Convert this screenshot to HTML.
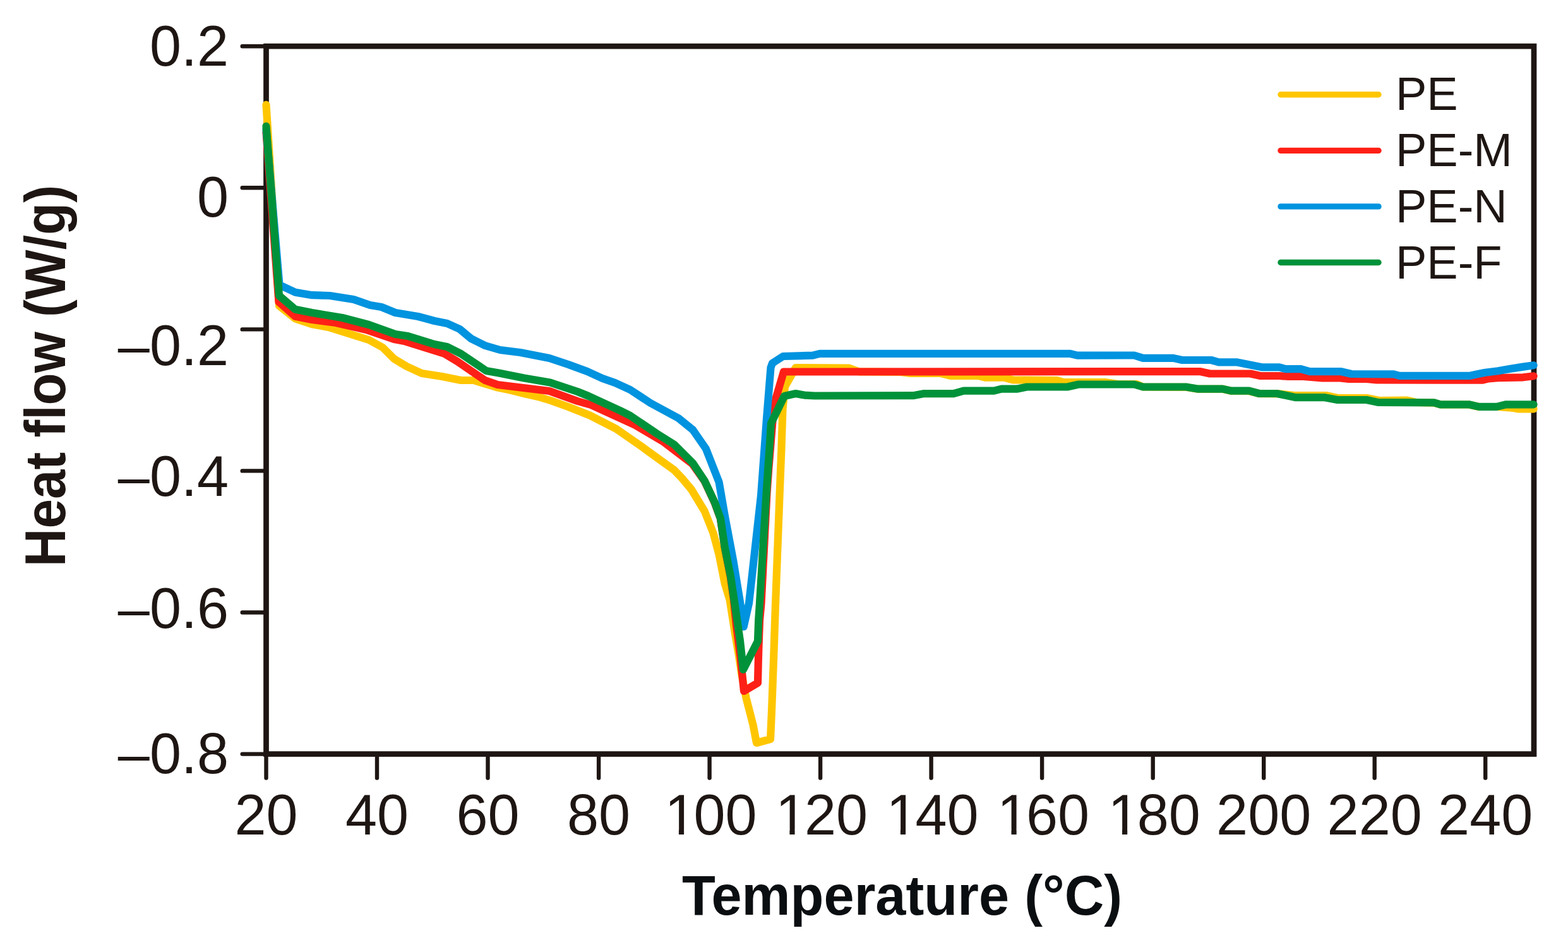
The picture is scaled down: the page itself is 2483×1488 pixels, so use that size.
<!DOCTYPE html><html><head><meta charset="utf-8"><title>Heat flow vs Temperature</title>
<style>html,body{margin:0;padding:0;background:#fff;overflow:hidden;}svg{display:block;}</style></head><body>
<svg width="2483" height="1488" viewBox="0 0 2483 1488">
<rect width="2483" height="1488" fill="#fff"/>
<g stroke="#1e1613" fill="none">
<rect x="421.5" y="73.2" width="2007.5" height="1120.4" stroke-width="8.7"/>
<path d="M383.7,73.2H421.5M383.7,297.3H421.5M383.7,521.4H421.5M383.7,745.4H421.5M383.7,969.5H421.5M383.7,1193.6H421.5M421.5,1193.6V1231.5M597.0,1193.6V1231.5M772.5,1193.6V1231.5M948.1,1193.6V1231.5M1123.6,1193.6V1231.5M1299.1,1193.6V1231.5M1474.6,1193.6V1231.5M1650.1,1193.6V1231.5M1825.7,1193.6V1231.5M2001.2,1193.6V1231.5M2176.7,1193.6V1231.5M2352.2,1193.6V1231.5" stroke-width="6.4" stroke-linecap="round"/>
</g>
<g fill="none" stroke-width="12.2" stroke-linecap="round" stroke-linejoin="round">
<polyline stroke="#ffc600" points="421.5,165.8 442.0,484.0 467.6,504.4 493.9,513.2 520.0,518.0 584.0,538.0 606.0,550.0 624.0,568.0 644.0,580.0 668.0,591.0 700.0,596.0 730.0,602.0 750.0,602.0 786.0,613.0 808.0,617.5 830.0,623.0 852.0,628.0 872.0,634.0 900.0,644.0 934.0,657.5 976.0,679.0 1012.0,704.0 1040.0,724.2 1067.5,744.0 1080.0,757.0 1095.0,775.0 1115.6,809.0 1129.4,843.4 1138.6,877.8 1147.7,923.6 1155.7,950.0 1163.5,1000.0 1169.7,1036.0 1174.6,1068.6 1181.5,1104.7 1192.6,1147.8 1198.0,1176.0 1220.0,1170.0 1222.0,1126.0 1225.2,1040.0 1227.9,960.0 1234.5,785.0 1237.4,712.0 1239.5,647.0 1243.0,612.0 1260.0,582.0 1344.0,582.5 1360.0,588.3 1426.0,589.0 1442.0,591.0 1490.0,591.0 1506.0,595.0 1550.0,595.0 1560.0,597.6 1590.0,597.6 1604.0,601.4 1674.0,602.0 1684.0,605.0 1750.0,605.0 1770.0,608.0 1800.0,608.0 1810.0,612.5 1878.0,612.8 1896.0,615.8 1936.0,615.8 1950.0,619.0 1978.0,619.0 1994.0,623.2 2026.0,623.4 2050.0,626.0 2100.0,626.0 2118.0,630.0 2164.0,630.0 2184.0,634.0 2228.0,633.7 2243.0,637.0 2271.0,637.6 2281.0,640.5 2326.0,640.5 2342.0,644.0 2372.0,644.0 2397.0,646.0 2405.0,647.5 2428.6,647.5"/>
<polyline stroke="#fe2017" points="421.5,210.0 441.5,478.0 467.6,500.8 493.9,506.0 532.0,511.0 580.0,522.0 624.0,537.0 640.0,540.0 704.0,560.0 724.0,572.0 768.0,602.0 788.0,609.0 870.0,619.0 914.6,635.0 936.0,641.0 1006.0,673.0 1050.0,699.0 1096.5,734.5 1115.6,761.5 1131.7,795.8 1140.9,821.0 1147.7,866.6 1156.7,912.5 1162.0,950.0 1166.0,990.0 1172.5,1040.0 1178.0,1094.0 1200.0,1081.0 1200.7,1050.0 1201.4,1025.0 1203.0,982.0 1205.5,955.0 1214.5,780.0 1217.0,745.0 1224.0,660.0 1228.5,631.0 1241.0,588.5 1290.0,588.5 1900.0,588.0 1916.0,591.5 1980.0,591.5 1996.0,595.0 2026.0,595.0 2040.0,596.0 2064.0,596.0 2094.0,598.3 2120.0,598.3 2136.0,600.0 2164.0,600.0 2180.0,601.5 2348.0,601.7 2357.0,599.4 2372.0,598.1 2412.0,597.3 2428.6,595.3"/>
<polyline stroke="#0093df" points="421.5,205.0 442.5,451.0 467.6,462.7 493.9,467.2 522.0,468.0 560.0,474.0 586.0,483.0 604.0,486.0 626.0,495.0 662.0,501.0 688.0,508.0 708.0,512.0 728.0,521.0 746.0,536.0 768.0,547.0 792.0,554.0 824.0,558.0 870.0,567.0 900.0,577.0 930.0,588.0 954.0,599.0 974.0,606.0 998.0,617.0 1030.0,638.0 1074.4,662.0 1097.3,680.6 1117.9,710.4 1138.6,763.2 1147.7,815.9 1161.5,889.2 1171.5,950.0 1177.7,992.0 1186.0,955.0 1205.0,785.0 1214.0,663.0 1220.5,582.0 1223.0,575.0 1240.0,564.0 1287.0,562.6 1298.0,559.8 1694.0,559.8 1706.0,562.6 1796.0,562.5 1810.0,566.9 1858.0,566.9 1872.0,570.0 1918.0,570.0 1930.0,573.3 1958.0,573.3 1998.0,581.3 2026.0,581.3 2036.0,584.2 2060.0,584.2 2074.0,588.2 2124.0,588.2 2140.0,592.0 2207.0,592.3 2216.0,594.8 2328.0,594.8 2337.0,592.8 2352.0,589.7 2372.0,587.2 2392.0,583.7 2412.0,580.6 2428.6,578.3"/>
<polyline stroke="#00923a" points="421.5,199.8 442.0,468.0 467.6,489.8 493.9,495.1 542.0,503.0 584.0,514.0 626.0,529.0 646.0,532.0 688.0,545.0 708.0,549.0 730.0,560.0 770.0,587.0 790.0,590.5 830.0,598.5 871.0,605.5 914.6,620.0 932.0,627.0 982.0,650.0 998.0,658.0 1040.0,686.4 1067.5,703.6 1097.3,733.4 1115.6,760.9 1131.7,795.2 1140.9,820.5 1147.7,866.3 1156.9,912.1 1162.6,950.0 1172.0,1014.7 1177.0,1060.0 1200.0,1015.0 1201.2,982.0 1203.0,955.0 1213.6,780.0 1219.5,695.0 1221.0,670.0 1242.0,627.0 1260.0,623.0 1274.0,625.6 1290.0,626.5 1446.0,626.2 1462.0,623.2 1510.0,623.2 1526.0,618.7 1574.0,618.7 1586.0,615.7 1610.0,615.7 1626.0,612.5 1690.0,612.5 1708.0,608.5 1796.0,608.5 1810.0,612.5 1878.0,612.5 1896.0,615.6 1936.0,615.6 1950.0,618.7 1978.0,618.7 1994.0,623.0 2022.0,623.0 2052.0,629.2 2098.0,629.2 2118.0,633.0 2164.0,633.0 2182.0,636.9 2271.0,637.3 2281.0,640.3 2326.0,640.3 2342.0,643.9 2370.0,643.9 2385.0,640.3 2428.6,640.3"/>
</g>
<g font-family="Liberation Sans, Arial, sans-serif" font-size="90" fill="#1e1613" text-anchor="end">
<text x="362" y="103.9">0.2</text>
<text x="362" y="342.5">0</text>
<text x="362" y="577.8">–0.2</text>
<text x="362" y="784.5">–0.4</text>
<text x="362" y="993.5">–0.6</text>
<text x="362" y="1224.0">–0.8</text>
</g>
<g font-family="Liberation Sans, Arial, sans-serif" font-size="90" fill="#1e1613" text-anchor="middle">
<text x="421.5" y="1320.5">20</text>
<text x="597.0" y="1320.5">40</text>
<text x="772.5" y="1320.5">60</text>
<text x="948.1" y="1320.5">80</text>
<text x="1121.6" y="1320.5" dx="4 -4">100</text>
<text x="1297.1" y="1320.5" dx="4 -4">120</text>
<text x="1472.6" y="1320.5" dx="4 -4">140</text>
<text x="1648.1" y="1320.5" dx="4 -4">160</text>
<text x="1823.7" y="1320.5" dx="4 -4">180</text>
<text x="2001.2" y="1320.5">200</text>
<text x="2176.7" y="1320.5">220</text>
<text x="2352.2" y="1320.5">240</text>
</g>
<path fill="#fff" d="M1058.0,1313.2h16.9v7.9h-16.9zM1083.1,1313.2h17.4v7.9h-17.4zM1233.5,1313.2h16.9v7.9h-16.9zM1258.6,1313.2h17.4v7.9h-17.4zM1409.0,1313.2h16.9v7.9h-16.9zM1434.1,1313.2h17.4v7.9h-17.4zM1584.6,1313.2h16.9v7.9h-16.9zM1609.7,1313.2h17.4v7.9h-17.4zM1760.1,1313.2h16.9v7.9h-16.9zM1785.2,1313.2h17.4v7.9h-17.4z"/>
<text x="1080" y="1448.1" font-family="Liberation Sans, Arial, sans-serif" font-weight="bold" font-size="89" fill="#0b0e11" textLength="697" lengthAdjust="spacingAndGlyphs">Temperature (°C)</text>
<text transform="translate(103.3,897) rotate(-90)" x="0" y="0" font-family="Liberation Sans, Arial, sans-serif" font-weight="bold" font-size="90.5" fill="#1e1613" textLength="604" lengthAdjust="spacingAndGlyphs">Heat flow (W/g)</text>
<g stroke-width="9.4" stroke-linecap="round">
<line x1="2028" y1="149.8" x2="2183" y2="149.8" stroke="#ffc600"/>
<line x1="2028" y1="238.4" x2="2183" y2="238.4" stroke="#fe2017"/>
<line x1="2028" y1="326.9" x2="2183" y2="326.9" stroke="#0093df"/>
<line x1="2028" y1="415.5" x2="2183" y2="415.5" stroke="#00923a"/>
</g>
<g font-family="Liberation Sans, Arial, sans-serif" font-size="74" fill="#1e1613">
<text x="2210" y="173.5">PE</text>
<text x="2210" y="262.6">PE-M</text>
<text x="2210" y="352.4">PE-N</text>
<text x="2210" y="440.9">PE-F</text>
</g>
</svg></body></html>
